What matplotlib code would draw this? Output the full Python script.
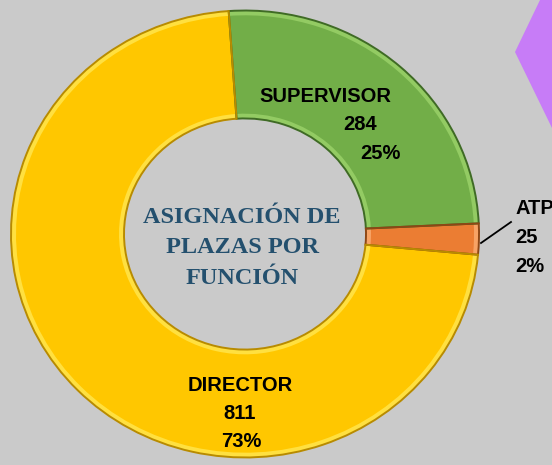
import matplotlib.pyplot as plt
from matplotlib.patches import Polygon

# chart data
categories = ["SUPERVISOR", "ATP", "DIRECTOR"]
plazas = [284, 25, 811]
pct_labels = ["25%", "2%", "73%"]
title_lines = ["ASIGNACIÓN DE", "PLAZAS POR", "FUNCIÓN"]

base_colors = ["#72AE48", "#EB7D33", "#FFC700"]
light_colors = ["#93CB63", "#F7A365", "#FFE040"]
edge_colors = ["#3F6B25", "#8E4715", "#B88B00"]

W, H = 552, 465
SY = 0.955  # donut is a little squashed vertically in the original

fig = plt.figure(figsize=(W / 100, H / 100), dpi=100)
fig.patch.set_facecolor("#CACACA")
ax = fig.add_axes([0, 0, 1, 1])

cx, cy = 245, (H - 234) / SY
r_out, ring = 234, 113
pie_kw = dict(center=(cx, cy), startangle=94, counterclock=False)

# bevel: light rim, main colour inset, dark outlines on top
ax.pie(plazas, colors=light_colors, radius=r_out,
       wedgeprops=dict(width=ring, linewidth=0), **pie_kw)
ax.pie(plazas, colors=base_colors, radius=r_out - 5,
       wedgeprops=dict(width=ring - 10, linewidth=0), **pie_kw)
outlines, _ = ax.pie(plazas, radius=r_out,
                     wedgeprops=dict(width=ring, linewidth=1.4), **pie_kw)
for w, ec in zip(outlines, edge_colors):
    w.set_facecolor("none")
    w.set_edgecolor(ec)

ax.set_aspect("auto")
ax.set_xlim(0, W)
ax.set_ylim(0, H / SY)
ax.axis("off")


def put(x, y, s, **kw):
    # x, y in pixels from the top-left corner
    ax.text(x / W, 1 - y / H, s, transform=ax.transAxes, **kw)


lab = dict(fontsize=14.5, fontweight="bold", family="Liberation Sans",
           color="black", va="baseline")

# SUPERVISOR
put(325.5, 102, categories[0], ha="center", **lab)
put(360.5, 130, str(plazas[0]), ha="center", **lab)
put(380, 159, pct_labels[0], ha="center", **lab)

# ATP (outside, with leader line)
put(515, 214, categories[1], ha="left", **lab)
put(515, 243, str(plazas[1]), ha="left", **lab)
put(515, 272, pct_labels[1], ha="left", **lab)
ax.plot([481 / W, 511 / W], [1 - 243 / H, 1 - 222 / H], color="black",
        lw=1.3, transform=ax.transAxes)

# DIRECTOR
put(240.5, 391, categories[2], ha="center", **lab)
put(240, 419, str(plazas[2]), ha="center", **lab)
put(241, 447, pct_labels[2], ha="center", **lab)

# centre title
for y, line in zip([223, 253, 284], title_lines):
    put(242, y, line, ha="center", va="baseline", fontsize=17.5,
        fontweight="bold", family="Liberation Serif", color="#24506E")

# purple shape at the top-right corner
ax.add_patch(Polygon([(540 / W, 1), (1, 1), (1, 1 - 128 / H), (515 / W, 1 - 52 / H)],
                     closed=True, facecolor="#C77CF7", edgecolor="none",
                     transform=ax.transAxes, clip_on=False))

fig.savefig("out.png", dpi=100, facecolor=fig.get_facecolor())
